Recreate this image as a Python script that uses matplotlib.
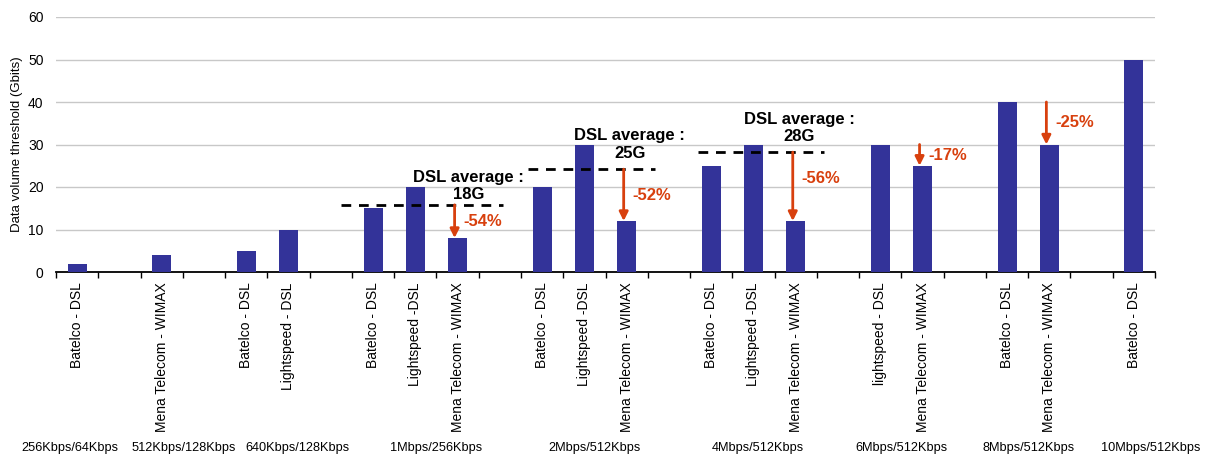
import numpy as np
import matplotlib
matplotlib.use("Agg")
import matplotlib.pyplot as plt
from matplotlib.transforms import blended_transform_factory

plt.rcParams['font.family'] = ['Liberation Sans', 'DejaVu Sans']

# one slot per category, '' = blank spacer slot
labels = ['Batelco - DSL', '', 'Mena Telecom - WIMAX', '',
          'Batelco - DSL', 'Lightspeed - DSL', '',
          'Batelco - DSL', 'Lightspeed -DSL', 'Mena Telecom - WIMAX', '',
          'Batelco - DSL', 'Lightspeed -DSL', 'Mena Telecom - WIMAX', '',
          'Batelco - DSL', 'Lightspeed -DSL', 'Mena Telecom - WIMAX', '',
          'lightspeed - DSL', 'Mena Telecom - WIMAX', '',
          'Batelco - DSL', 'Mena Telecom - WIMAX', '',
          'Batelco - DSL']
values = [2, np.nan, 4, np.nan,
          5, 10, np.nan,
          15, 20, 8, np.nan,
          20, 30, 12, np.nan,
          25, 30, 12, np.nan,
          30, 25, np.nan,
          40, 30, np.nan,
          50]

groups = ['256Kbps/64Kbps', '512Kbps/128Kbps', '640Kbps/128Kbps', '1Mbps/256Kbps',
          '2Mbps/512Kbps', '4Mbps/512Kbps', '6Mbps/512Kbps', '8Mbps/512Kbps',
          '10Mbps/512Kbps']
group_pos = [-0.18, 2.53, 5.22, 8.5, 12.24, 16.1, 19.5, 22.5, 25.4]

# DSL averages (dashed lines)
avg_text = ['18G', '25G', '28G']
avg_level = [15.8, 24.2, 28.2]
avg_start = [6.24, 10.66, 14.68]
avg_end = [10.07, 13.68, 17.68]
avg_text_x = [9.26, 13.07, 17.09]
avg_text_y = [20.2, 30.0, 33.9]

# WIMAX drops vs DSL
drop_bar = [9, 13, 17, 20, 23]
drop_from = [15.8, 24.2, 28.2, 30, 40]
drop_pct = ['-54%', '-52%', '-56%', '-17%', '-25%']
drop_text_y = [12, 18.1, 22.1, 27.4, 35.2]

bar_color = '#333399'
red = '#D8400E'

fig = plt.figure(figsize=(12.09, 4.55), dpi=100)
ax = fig.add_axes([56/1209, 1 - 272/455, 1099/1209, 255/455])

x = np.arange(len(labels))
ax.bar(x, values, width=0.45, color=bar_color, zorder=3)

ax.set_xlim(-0.5, len(labels) - 0.5)
ax.set_ylim(0, 60)
ax.set_yticks(range(0, 61, 10))
ax.yaxis.grid(True, color='#C8C8C8', lw=1)
ax.set_axisbelow(True)
for s in ['left', 'right', 'top']:
    ax.spines[s].set_visible(False)
ax.spines['bottom'].set_linewidth(1.3)
ax.tick_params(axis='y', length=0, pad=9, labelsize=10)

ax.set_xticks(x)
ax.set_xticklabels(labels, rotation=90, fontsize=10)
ax.set_xticks(np.arange(len(labels) + 1) - 0.5, minor=True)
ax.tick_params(axis='x', which='major', length=0, pad=7.5)
ax.tick_params(axis='x', which='minor', length=4, width=1)

fig.text(17/1209, 1 - 144.5/455, 'Data volume threshold (Gbits)', rotation=90,
         ha='center', va='center', fontsize=9.5)

trans = blended_transform_factory(ax.transData, ax.transAxes)
for g, p in zip(groups, group_pos):
    ax.text(p, -0.69, g, transform=trans, ha='center', va='center', fontsize=9.2)

for i in range(len(avg_text)):
    ax.plot([avg_start[i], avg_end[i]], [avg_level[i]] * 2, color='black', lw=2,
            linestyle=(0, (3.5, 2.8)), zorder=4)
    ax.text(avg_text_x[i], avg_text_y[i], 'DSL average :\n' + avg_text[i],
            ha='center', va='center', fontsize=12, fontweight='bold',
            linespacing=1.2, zorder=5)

for b, f, t, ty in zip(drop_bar, drop_from, drop_pct, drop_text_y):
    ax.annotate('', xy=(b - 0.07, values[b]), xytext=(b - 0.07, f),
                arrowprops=dict(arrowstyle='-|>', color=red, lw=2,
                                mutation_scale=13, shrinkA=0, shrinkB=0),
                zorder=6)
    ax.text(b + 0.14, ty, t, color=red, fontsize=12, fontweight='bold',
            ha='left', va='center', zorder=6)

fig.savefig('out.png', dpi=100)
